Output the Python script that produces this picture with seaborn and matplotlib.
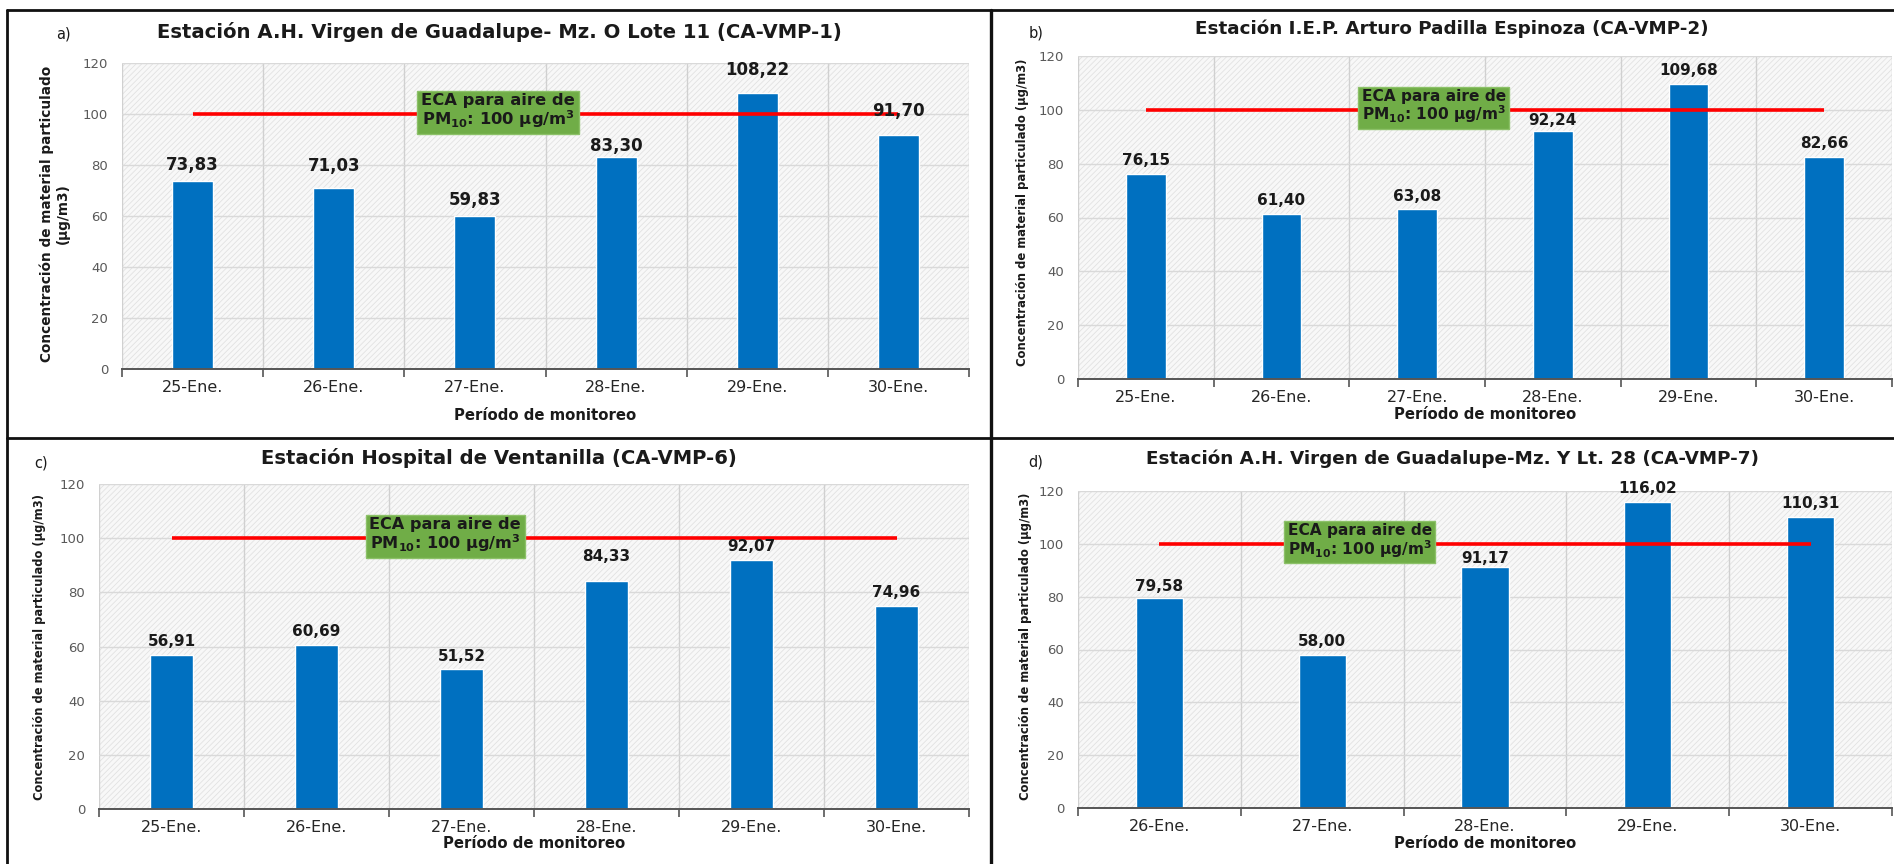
import numpy as np
import matplotlib
matplotlib.use("Agg")
import matplotlib.pyplot as plt
from matplotlib.lines import Line2D
from matplotlib.patches import Rectangle
import matplotlib.transforms as mtransforms
import seaborn as sns

sns.set_theme(style="white")
plt.rcParams["font.family"] = ["DejaVu Sans"]
plt.rcParams["mathtext.default"] = "bf"
plt.rcParams["hatch.linewidth"] = 0.6

# ---- data -------------------------------------------------------------
dates_a = ["25-Ene.", "26-Ene.", "27-Ene.", "28-Ene.", "29-Ene.", "30-Ene."]
values_a = [73.83, 71.03, 59.83, 83.30, 108.22, 91.70]

dates_b = ["25-Ene.", "26-Ene.", "27-Ene.", "28-Ene.", "29-Ene.", "30-Ene."]
values_b = [76.15, 61.40, 63.08, 92.24, 109.68, 82.66]

dates_c = ["25-Ene.", "26-Ene.", "27-Ene.", "28-Ene.", "29-Ene.", "30-Ene."]
values_c = [56.91, 60.69, 51.52, 84.33, 92.07, 74.96]

dates_d = ["26-Ene.", "27-Ene.", "28-Ene.", "29-Ene.", "30-Ene."]
values_d = [79.58, 58.00, 91.17, 116.02, 110.31]

eca_limit = 100
y_ticks = [0, 20, 40, 60, 80, 100, 120]

titles = {
    "a": "Estación A.H. Virgen de Guadalupe- Mz. O Lote 11 (CA-VMP-1)",
    "b": "Estación I.E.P. Arturo Padilla Espinoza (CA-VMP-2)",
    "c": "Estación Hospital de Ventanilla (CA-VMP-6)",
    "d": "Estación A.H. Virgen de Guadalupe-Mz. Y Lt. 28 (CA-VMP-7)",
}
ylabel_long = "Concentración de material particulado (µg/m3)"
ylabel_two = "Concentración de material particulado\n(µg/m3)"
xlabel = "Período de monitoreo"
eca_text = "ECA para aire de\nPM$_{10}$: 100 µg/m$^{3}$"

# ---- styling ----------------------------------------------------------
W, H = 1894, 864
BAR = "#0070C0"
GREEN = "#70AD47"
fig = plt.figure(figsize=(W / 100, H / 100), dpi=100)
fig.patch.set_facecolor("white")


def fx(px):
    return px / W


def fy(py):
    return 1 - py / H


def panel(box, dates, values, title, tag, title_xy, tag_xy, ylab, ylab_xy,
          ylab_size, xlab_y, box_x, box_size, val_size, title_size, pads):
    left, top, right, bottom = box
    ax = fig.add_axes([fx(left), fy(bottom), fx(right - left), (bottom - top) / H])
    n = len(dates)

    # hatched plot background
    ax.add_patch(Rectangle((0, 0), 1, 1, transform=ax.transAxes,
                           facecolor="#f8f8f8", edgecolor="#e2e2e2",
                           hatch="//////", lw=0, zorder=0.1))

    sns.barplot(x=dates, y=values, color=BAR, saturation=1, width=0.29,
                ax=ax, zorder=2)
    ax.set_xlim(-0.5, n - 0.5)
    ax.set_ylim(0, 120)
    ax.set_yticks(y_ticks)
    ax.set_xticks(np.arange(-0.5, n), minor=True)

    ax.grid(True, axis="y", color="#d9d9d9", lw=1.0)
    ax.grid(True, axis="x", which="minor", color="#d0d0d0", lw=1.0)
    ax.grid(False, axis="x", which="major")
    ax.set_axisbelow(True)

    for s in ("top", "right", "left"):
        ax.spines[s].set_visible(False)
    ax.spines["bottom"].set_color("#555555")
    ax.spines["bottom"].set_linewidth(1.4)
    ax.tick_params(axis="x", which="major", length=0, pad=8,
                   labelsize=11.5, labelcolor="#262626")
    ax.tick_params(axis="x", which="minor", length=6, width=1.2,
                   color="#555555", direction="out", bottom=True)
    ax.tick_params(axis="y", length=0, pad=10, labelsize=9.5,
                   labelcolor="#595959")
    ax.set_xlabel("")
    ax.set_ylabel("")

    # ECA limit line from first to last category
    ax.hlines(eca_limit, 0, n - 1, color="#FF0000", lw=2.6, zorder=3)

    # value labels
    for rect, v, p in zip(ax.patches[1:], values, pads):
        ax.annotate(f"{v:.2f}".replace(".", ","),
                    (rect.get_x() + rect.get_width() / 2, rect.get_height()),
                    xytext=(0, p), textcoords="offset points",
                    ha="center", va="bottom", fontsize=val_size,
                    fontweight="bold", color="#1a1a1a", zorder=5)

    # ECA label box
    trans = mtransforms.blended_transform_factory(ax.transAxes, ax.transData)
    ax.text(box_x, eca_limit + 1, eca_text, transform=trans, ha="center",
            va="center", fontsize=box_size, fontweight="bold", color="#1a1a1a",
            linespacing=1.0, zorder=6,
            bbox=dict(boxstyle="square,pad=0.24", facecolor=GREEN,
                      edgecolor="#8cc168", lw=1.0))

    fig.text(fx(title_xy[0]), fy(title_xy[1]), title, ha="center", va="center",
             fontsize=title_size, fontweight="bold", color="#1a1a1a")
    fig.text(fx(tag_xy[0]), fy(tag_xy[1]), tag, ha="center", va="center",
             fontsize=10.5, color="#1a1a1a")
    fig.text(fx(ylab_xy[0]), fy(ylab_xy[1]), ylab, ha="center", va="center",
             rotation=90, fontsize=ylab_size, fontweight="bold",
             color="#1a1a1a", linespacing=1.15)
    fig.text(fx((left + right) / 2), fy(xlab_y), xlabel, ha="center",
             va="center", fontsize=10.7, fontweight="bold", color="#1a1a1a")
    return ax


panel((122, 63, 969, 369), dates_a, values_a, titles["a"], "a)",
      (499, 32), (63, 34), ylabel_two, (55, 214), 9.8, 416, 0.444, 11.8,
      12, 14.1, [5, 9, 5, 1, 10, 11])
panel((1078, 56, 1892, 379), dates_b, values_b, titles["b"], "b)",
      (1452, 29), (1036, 33), ylabel_long, (1022, 212), 8.4, 414, 0.437, 11.1,
      11, 13.2, [4, 4, 4, 2, 4, 4])
panel((99, 484, 969, 809), dates_c, values_c, titles["c"], "c)",
      (499, 458), (41, 463), ylabel_long, (39, 647), 8.3, 844, 0.398, 11.6,
      11, 14.1, [4, 4, 4, 12, 4, 4])
panel((1078, 491, 1892, 808), dates_d, values_d, titles["d"], "d)",
      (1452, 459), (1036, 462), ylabel_long, (1025, 646), 8.4, 844, 0.346, 11.1,
      11, 13.2, [3, 4, 1, 4, 4])

# panel frame lines
for (x0, y0, x1, y1, lw) in [(7, 10, W, 10, 2.0), (7, 10, 7, H, 2.0),
                             (7, 438, W, 438, 2.0), (991, 10, 991, H, 2.4)]:
    fig.add_artist(Line2D([fx(x0), fx(x1)], [fy(y0), fy(y1)],
                          transform=fig.transFigure, color="#111111", lw=lw))

fig.savefig("out.png", dpi=100, facecolor="white")
